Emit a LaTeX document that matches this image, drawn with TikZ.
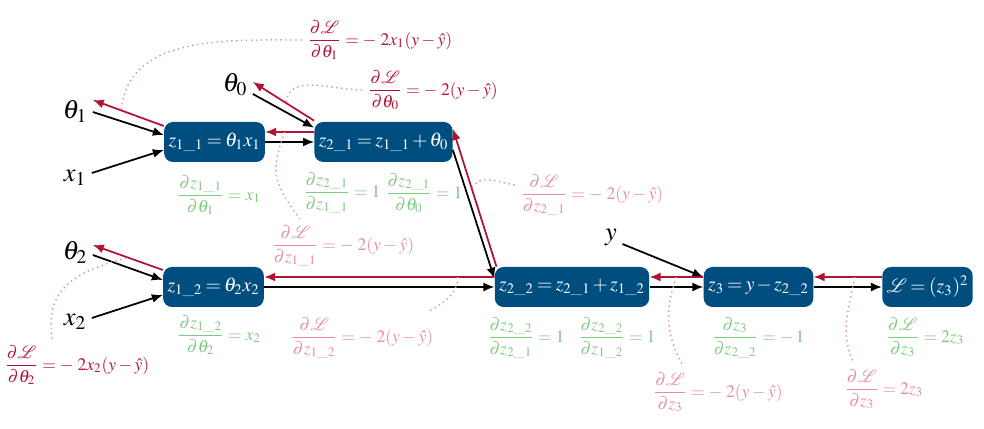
\documentclass[tikz,border=0pt]{standalone}
\usepackage{amsmath}
\usepackage{mathptmx}
\usepackage{mathrsfs}
\usetikzlibrary{arrows.meta, positioning}
\definecolor{boxblue}{RGB}{0,78,128}
\definecolor{backred}{RGB}{178,18,52}
\definecolor{lightred}{RGB}{230,140,160}
\definecolor{lightgreen}{RGB}{126,202,126}
\newcommand{\dL}{\partial\mathscr{L}}
\newcommand{\boxfont}{\fontsize{11.2}{13}\selectfont\thickmuskip=3mu\relax\medmuskip=2mu\relax}

\begin{document}
\begin{tikzpicture}[
  box/.style={rectangle, rounded corners=5pt, fill=boxblue, text=white, minimum height=0.8cm, inner xsep=2.5pt, font=\boxfont},
  inp/.style={inner sep=3pt, font=\fontsize{15}{18}\selectfont},
  fwd/.style={-{Latex[length=2.2mm,width=1.8mm]}, line width=1pt, black},
  back/.style={-{Latex[length=2.2mm,width=1.8mm]}, line width=1pt, backred},
  grad/.style={text=lightgreen},
  dlab/.style={text=backred},
  plab/.style={text=lightred},
  note/.style={dotted, line width=0.8pt, lightred}]
  \useasboundingbox (0,0) rectangle (19.68,-8.58);

  \node[box] (z11) at (4.29,-2.84) {$z_{1\_1} = \theta_1 x_1$};
  \node[box] (z21) at (7.67,-2.84) {$z_{2\_1} = z_{1\_1} + \theta_0$};
  \node[box] (z12) at (4.27,-5.74) {$z_{1\_2} = \theta_2 x_2$};
  \node[box] (z22) at (11.44,-5.74) {$z_{2\_2} = z_{2\_1} + z_{1\_2}$};
  \node[box] (z3) at (15.17,-5.74) {$z_3 = y - z_{2\_2}$};
  \node[box] (L) at (18.55,-5.74) {$\mathscr{L} = (z_3)^2$};

  \node[inp] (th1) at (1.5,-2.22) {$\theta_1$};
  \node[inp] (x1) at (1.5,-3.56) {$x_1$};
  \node[inp] (th0) at (4.7,-1.7) {$\theta_0$};
  \node[inp] (th2) at (1.5,-5.04) {$\theta_2$};
  \node[inp] (x2) at (1.5,-6.44) {$x_2$};
  \node[inp] (y) at (12.22,-4.74) {$y$};

  \node[grad] (g11) at (4.38,-3.9) {$\dfrac{\partial z_{1\_1}}{\partial\theta_1} = x_1$};
  \node[grad] (g21a) at (6.84,-3.86) {$\dfrac{\partial z_{2\_1}}{\partial z_{1\_1}} = 1$};
  \node[grad] (g21b) at (8.48,-3.86) {$\dfrac{\partial z_{2\_1}}{\partial\theta_0} = 1$};
  \node[grad] (g12) at (4.38,-6.7) {$\dfrac{\partial z_{1\_2}}{\partial\theta_2} = x_2$};
  \node[grad] (g22a) at (10.52,-6.76) {$\dfrac{\partial z_{2\_2}}{\partial z_{2\_1}} = 1$};
  \node[grad] (g22b) at (12.34,-6.76) {$\dfrac{\partial z_{2\_2}}{\partial z_{1\_2}} = 1$};
  \node[grad] (g3) at (15.16,-6.76) {$\dfrac{\partial z_3}{\partial z_{2\_2}} = -\,1$};
  \node[grad] (gL) at (18.5,-6.74) {$\dfrac{\dL}{\partial z_3} = 2z_3$};

  \node[dlab] (dLt1) at (7.6,-0.8) {$\dfrac{\dL}{\partial\theta_1} = -\;2x_1(y-\hat{y})$};
  \node[dlab] (dLt0) at (8.66,-1.8) {$\dfrac{\dL}{\partial\theta_0} = -\;2(y-\hat{y})$};
  \node[dlab] (dLt2) at (1.54,-7.3) {$\dfrac{\dL}{\partial\theta_2} = -\;2x_2(y-\hat{y})$};
  \node[plab] (dLz11) at (6.86,-4.92) {$\dfrac{\dL}{\partial z_{1\_1}} = -\;2(y-\hat{y})$};
  \node[plab] (dLz21) at (11.84,-3.9) {$\dfrac{\dL}{\partial z_{2\_1}} = -\;2(y-\hat{y})$};
  \node[plab] (dLz12) at (7.24,-6.76) {$\dfrac{\dL}{\partial z_{1\_2}} = -\;2(y-\hat{y})$};
  \node[plab] (dLz3a) at (14.36,-7.84) {$\dfrac{\dL}{\partial z_3} = -\;2(y-\hat{y})$};
  \node[plab] (dLz3b) at (17.68,-7.78) {$\dfrac{\dL}{\partial z_3} = 2z_3$};

  \draw[fwd] ([yshift=-0.02cm]th1.east) -- ([yshift=0.14cm]z11.west);
  \draw[fwd] ([yshift=0.1cm]x1.east) -- ([yshift=-0.16cm]z11.west);
  \draw[fwd] ([yshift=-0.18cm]th0.east) -- ([yshift=-0.12cm]z21.north west);
  \draw[fwd] ([yshift=-0.06cm]th2.east) -- ([yshift=0.14cm]z12.west);
  \draw[fwd] ([yshift=0.08cm]x2.east) -- ([yshift=-0.16cm]z12.west);
  \draw[fwd] ([yshift=-0.14cm]y.east) -- ([yshift=0.2cm]z3.west);
  \draw[fwd] (z11.east) -- (z21.west);
  \draw[fwd] ([yshift=-0.16cm]z21.east) -- ([yshift=-0.24cm]z22.north west);
  \draw[fwd] (z12.east) -- (z22.west);
  \draw[fwd] (z22.east) -- (z3.west);
  \draw[fwd] (z3.east) -- (L.west);

  \draw[back] ([yshift=0.32cm]z11.west) -- coordinate[pos=0.6] (r1) ([yshift=0.22cm]th1.east);
  \draw[back] ([yshift=0.02cm]z21.north west) -- coordinate[pos=0.46] (r0) ([yshift=0.06cm]th0.east);
  \draw[back] ([yshift=0.2cm]z21.west) -- coordinate[pos=0.6] (r11) ([yshift=0.2cm]z11.east);
  \draw[back] ([xshift=0.04cm]z22.north west) -- coordinate[pos=0.57] (r21) ([yshift=0.26cm]z21.east);
  \draw[back] ([yshift=0.2cm]z22.west) -- coordinate[pos=0.16] (r12) ([yshift=0.2cm]z12.east);
  \draw[back] ([yshift=0.34cm]z12.west) -- coordinate[pos=0.5] (r2) ([yshift=0.14cm]th2.east);
  \draw[back] ([yshift=0.2cm]z3.west) -- coordinate[pos=0.5] (r3) ([yshift=0.2cm]z22.east);
  \draw[back] ([yshift=0.2cm]L.west) -- coordinate[pos=0.4] (rL) ([yshift=0.2cm]z3.east);

  \draw[note] (dLt1.west) to[out=180,in=85] (r1);
  \draw[note] (dLt0.west) to[out=180,in=85] (r0);
  \draw[note] (r11) to[out=-110,in=125,looseness=1.3] ([xshift=0.68cm]dLz11.north west);
  \draw[note] ([yshift=0.2cm]dLz21.west) to[out=170,in=60] (r21);
  \draw[note] (r12) to[out=-90,in=30] ([xshift=-0.2cm]dLz12.north east);
  \draw[note] ([xshift=1.08cm]dLt2.north west) to[out=100,in=195,looseness=1.2] (r2);
  \draw[note] (r3) to[out=-110,in=120] ([xshift=0.72cm]dLz3a.north west);
  \draw[note] (rL) to[out=-100,in=115] ([xshift=0.3cm]dLz3b.north west);
\end{tikzpicture}
\end{document}
